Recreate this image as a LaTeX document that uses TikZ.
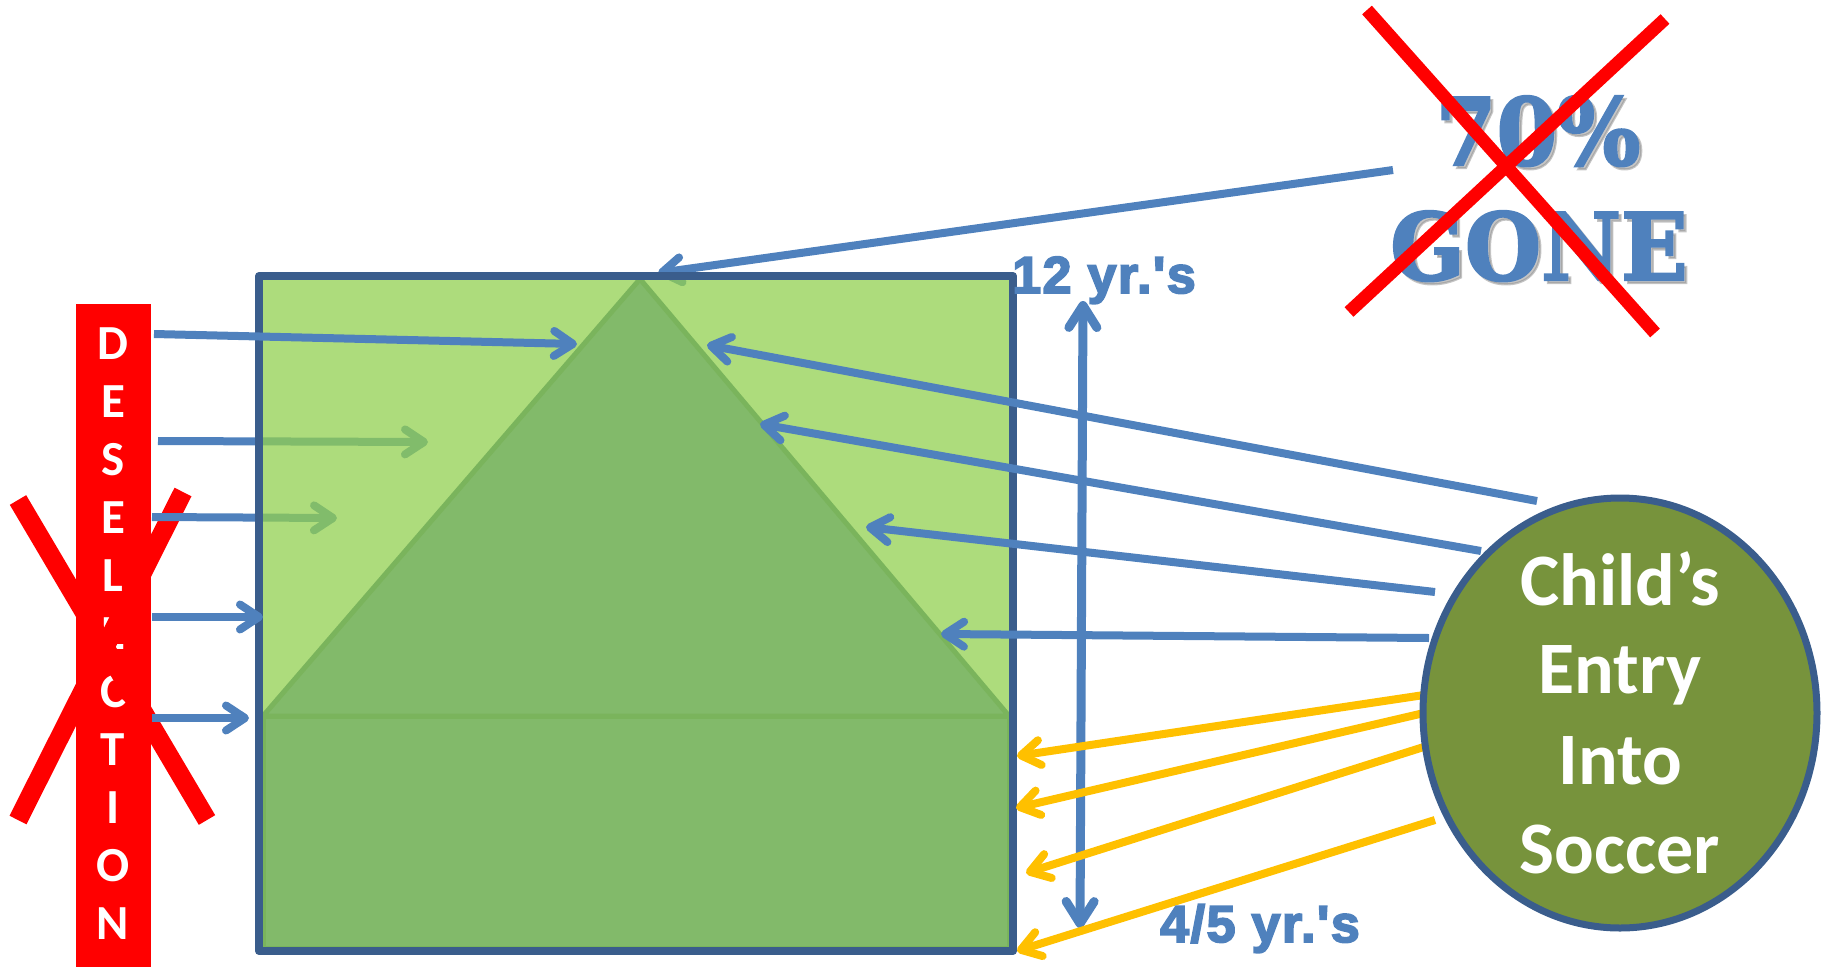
\documentclass[tikz,border=0pt]{standalone}
\usepackage{fontspec}
\usepackage{graphicx}
\usetikzlibrary{arrows.meta,shapes.geometric}
\newfontfamily\calfont{Carlito}
\newfontfamily\blackfont{Liberation Sans Bold}[Ligatures=TeXOff, FakeBold=3.5, LetterSpace=3]
\newfontfamily\gonefont{DejaVu Serif Bold}[FakeBold=2.5]
\definecolor{arrowblue}{HTML}{4F81BD}
\definecolor{edgeblue}{HTML}{3A5D8C}
\definecolor{gold}{HTML}{FFC000}
\definecolor{lightgrn}{HTML}{92D050}
\definecolor{midgrn}{HTML}{82BA6A}
\definecolor{midgrnedge}{HTML}{7AB45C}
\definecolor{olive}{HTML}{77933C}
\definecolor{xred}{HTML}{FF0000}
\tikzset{
  barb/.style={-{Straight Barb[length=19pt,width=25pt,round]}},
  bluearrow/.style={draw=arrowblue, line width=8pt, barb},
  goldarrow/.style={draw=gold, line width=8pt, barb},
  crossline/.style={draw=xred, line width=#1},
  letter/.style={anchor=base, text=white, inner sep=0pt, font=\calfont\bfseries\fontsize{49}{50}\selectfont},
  childtext/.style={anchor=base, text=white, inner sep=0pt, font=\calfont\bfseries\fontsize{74}{88}\selectfont},
  yrtext/.style={anchor=base, text=arrowblue, inner sep=0pt, font=\blackfont\fontsize{52}{60}\selectfont},
  gonetext/.style={anchor=base, inner sep=0pt, font=\gonefont\fontsize{93}{100}\selectfont},
}
\begin{document}
\begin{tikzpicture}[x=1pt,y=-1pt]
\useasboundingbox (0,0) rectangle (1826,967);

% coordinates
\coordinate (rtl) at (259,276);
\coordinate (rbr) at (1013,951);
\coordinate (apex) at (640,279);
\coordinate (baseL) at (263,716);
\coordinate (baseR) at (1009,716);
\coordinate (lowBR) at (1009,948);

\coordinate (L1s) at (154,334); \coordinate (L1e) at (577,344);
\coordinate (L2s) at (158,441); \coordinate (L2e) at (428,442);
\coordinate (L3s) at (152,517); \coordinate (L3e) at (337,518);
\coordinate (L4s) at (152,617); \coordinate (L4e) at (263,617);
\coordinate (L5s) at (152,718); \coordinate (L5e) at (249,718);

\coordinate (R1s) at (1537,501); \coordinate (R1e) at (707,345);
\coordinate (R2s) at (1481,551); \coordinate (R2e) at (760,424);
\coordinate (R3s) at (1435,592); \coordinate (R3e) at (866,527);
\coordinate (R4s) at (1429,638); \coordinate (R4e) at (941,634);

\coordinate (Y1s) at (1424,695); \coordinate (Y1e) at (1017,756);
\coordinate (Y2s) at (1424,713); \coordinate (Y2e) at (1016,808);
\coordinate (Y3s) at (1430,745); \coordinate (Y3e) at (1026,873);
\coordinate (Y4s) at (1435,820); \coordinate (Y4e) at (1017,951);

\coordinate (Gs) at (1393,170); \coordinate (Ge) at (658,273);
\coordinate (Vt) at (1083,301); \coordinate (Vb) at (1080,928);

% red DESELECTION bar
\fill[xred] (76,304) rectangle (151,967);
\foreach \L [count=\i] in {D,E,S,E,L,E,C,T,I,O,N}
  \node[letter] (des\i) at (113,{359+58*(\i-1)}) {\L};

% red X over the bar
\draw[crossline=19pt] (18,500) -- (207,820);
\draw[crossline=19pt] (183,492) -- (18,820);

% arrows that sit under the box
\draw[bluearrow] (L2s) -- (L2e);
\draw[bluearrow] (L3s) -- (L3e);
\draw[bluearrow] (Gs) -- (Ge);

% the box
\fill[lightgrn, fill opacity=0.75] (rtl) rectangle (rbr);
\filldraw[fill=midgrn, draw=midgrnedge, line width=5pt, line join=round] (baseL) -- (apex) -- (baseR) -- cycle;
\filldraw[fill=midgrn, draw=midgrnedge, line width=5pt] (baseL) rectangle (lowBR);
\draw[draw=edgeblue, line width=8pt, line join=round] (rtl) rectangle (rbr);

% arrows over the box
\draw[bluearrow] (L1s) -- (L1e);
\draw[bluearrow] (L4s) -- (L4e);
\draw[bluearrow] (L5s) -- (L5e);
\draw[bluearrow] (R1s) -- (R1e);
\draw[bluearrow] (R2s) -- (R2e);
\draw[bluearrow] (R3s) -- (R3e);
\draw[bluearrow] (R4s) -- (R4e);
\draw[draw=arrowblue, line width=9pt, {Straight Barb[length=22pt,width=28pt,round]}-{Straight Barb[length=22pt,width=28pt,round]}] (Vt) -- (Vb);
\draw[goldarrow] (Y1s) -- (Y1e);
\draw[goldarrow] (Y2s) -- (Y2e);
\draw[goldarrow] (Y3s) -- (Y3e);
\draw[goldarrow] (Y4s) -- (Y4e);

% labels
\node[yrtext] (twelve) at (1104,293) {12 yr.'s};
\node[yrtext] (four) at (1260,942) {4/5 yr.'s};

% 70% GONE with shadow
\node[gonetext, text=black!45, opacity=0.5] at (1541,168) {\scalebox{0.94}[1]{70\%}};
\node[gonetext, text=black!45, opacity=0.5] at (1542,283) {\scalebox{0.94}[1]{GONE}};
\node[gonetext, text=arrowblue] (seventy) at (1538,165) {\scalebox{0.94}[1]{70\%}};
\node[gonetext, text=arrowblue] (gone) at (1539,280) {\scalebox{0.94}[1]{GONE}};

% red X over 70% GONE
\draw[crossline=13pt] (1367,10) -- (1655,333);
\draw[crossline=13pt] (1665,19) -- (1349,312);

% child's entry circle
\node[ellipse, draw=edgeblue, line width=7pt, fill=olive, minimum width=394pt, minimum height=430pt, inner sep=0pt] (child) at (1620,713) {};
\node[childtext] (c1) at (1620,605) {Child’s};
\node[childtext] (c2) at (1620,693) {Entry};
\node[childtext] (c3) at (1620,784) {Into};
\node[childtext] (c4) at (1620,873) {Soccer};
\end{tikzpicture}
\end{document}
